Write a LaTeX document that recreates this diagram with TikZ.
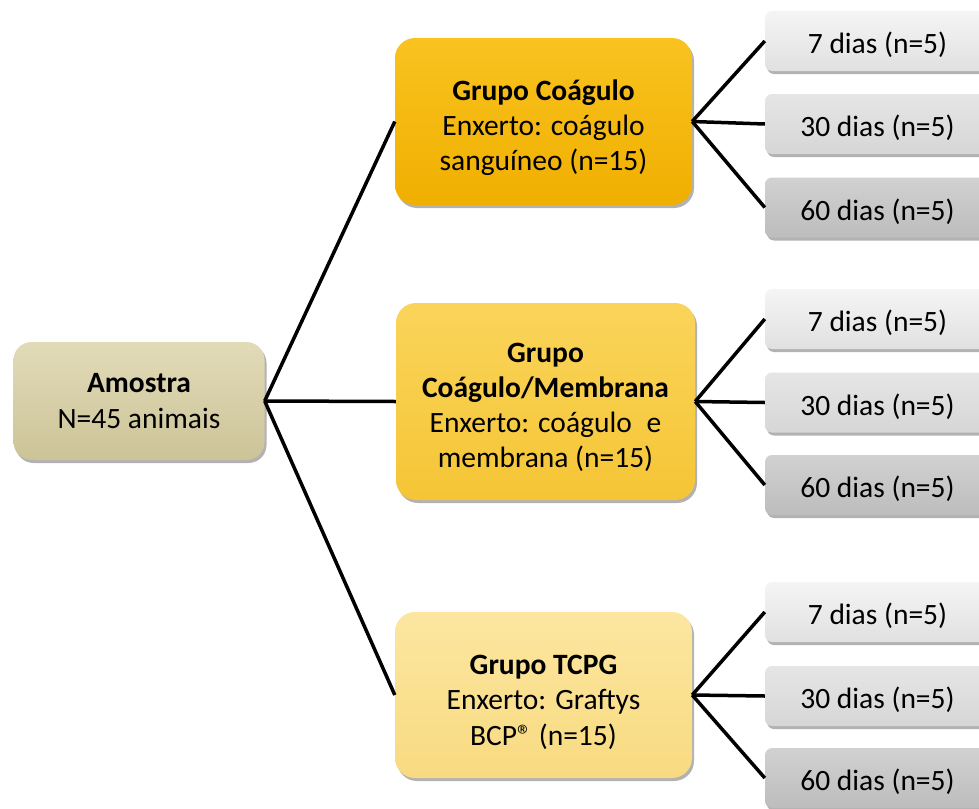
\documentclass[tikz,border=0pt]{standalone}
\usepackage{fontspec}
\setmainfont{Carlito}
\usetikzlibrary{shadows}
\definecolor{amtop}{HTML}{E2DBB8}
\definecolor{ambot}{HTML}{CCC398}
\definecolor{gatop}{HTML}{F9C320}
\definecolor{gabot}{HTML}{F0AF00}
\definecolor{gbtop}{HTML}{FAD45A}
\definecolor{gbbot}{HTML}{F5C535}
\definecolor{gctop}{HTML}{FCE6A0}
\definecolor{gcbot}{HTML}{F8DA80}
\newcommand{\lowr}[1]{\rule{0pt}{#1}}
\begin{document}
\begin{tikzpicture}[x=1pt,y=-1pt,
  txt/.style={font=\fontsize{29.5}{35.2}\selectfont, align=center, inner sep=0pt},
  bigbox/.style={txt, rectangle, rounded corners=20pt,
     drop shadow={shadow xshift=2pt,shadow yshift=-3pt,opacity=0.3,fill=black}},
  smallbox/.style={txt, rectangle, rounded corners=7pt, minimum width=225pt, minimum height=60pt,
     drop shadow={shadow xshift=2pt,shadow yshift=-3pt,opacity=0.3,fill=black}},
  dayA/.style={smallbox, top color=white!96!black, bottom color=white!88!black},
  dayB/.style={smallbox, top color=white!90!black, bottom color=white!84!black},
  dayC/.style={smallbox, top color=white!82!black, bottom color=white!74!black},
  conn/.style={draw=black, line width=3.5pt}]
\clip (0,0) rectangle (979,808);
\fill[white] (0,0) rectangle (979,808);

\node[bigbox, minimum width=251pt, minimum height=118pt, rounded corners=18pt,
      top color=amtop, bottom color=ambot] (am) at (139,401)
  {\textbf{Amostra}\\N=45 animais};

\node[bigbox, minimum width=297pt, minimum height=167pt,
      top color=gatop, bottom color=gabot] (g1) at (543.5,121.5)
  {\lowr{33pt}\textbf{Grupo Coágulo}\\Enxerto: coágulo\\sanguíneo (n=15)};
\node[bigbox, minimum width=299pt, minimum height=197pt,
      top color=gbtop, bottom color=gbbot] (g2) at (545.5,401.5)
  {\lowr{31pt}\textbf{Grupo}\\\textbf{Coágulo/Membrana}\\Enxerto: coágulo\enspace e\\membrana (n=15)};
\node[bigbox, minimum width=297pt, minimum height=166pt,
      top color=gctop, bottom color=gcbot] (g3) at (543.5,695)
  {\lowr{34pt}\textbf{Grupo TCPG}\\Enxerto: Graftys\\BCP® (n=15)};

\node[dayA] (a1) at (877.5,41) {\lowr{30pt}7 dias (n=5)};
\node[dayB] (a2) at (877.5,124) {\lowr{30pt}30 dias (n=5)};
\node[dayC] (a3) at (877.5,207.5) {\lowr{30pt}60 dias (n=5)};

\node[dayA] (b1) at (877.5,319) {\lowr{30pt}7 dias (n=5)};
\node[dayB] (b2) at (877.5,402.5) {\lowr{30pt}30 dias (n=5)};
\node[dayC] (b3) at (877.5,485) {\lowr{30pt}60 dias (n=5)};

\node[dayA] (c1) at (877.5,612) {\lowr{30pt}7 dias (n=5)};
\node[dayB] (c2) at (877.5,696) {\lowr{30pt}30 dias (n=5)};
\node[dayC] (c3) at (877.5,778) {\lowr{30pt}60 dias (n=5)};

\draw[conn] (am.east) -- (g1.west);
\draw[conn] (am.east) -- (g2.west);
\draw[conn] (am.east) -- (g3.west);

\draw[conn] (g1.east) -- (a1.west);
\draw[conn] (g1.east) -- (a2.west);
\draw[conn] (g1.east) -- (a3.west);
\draw[conn] (g2.east) -- (b1.west);
\draw[conn] (g2.east) -- (b2.west);
\draw[conn] (g2.east) -- (b3.west);
\draw[conn] (g3.east) -- (c1.west);
\draw[conn] (g3.east) -- (c2.west);
\draw[conn] (g3.east) -- (c3.west);
\end{tikzpicture}
\end{document}
